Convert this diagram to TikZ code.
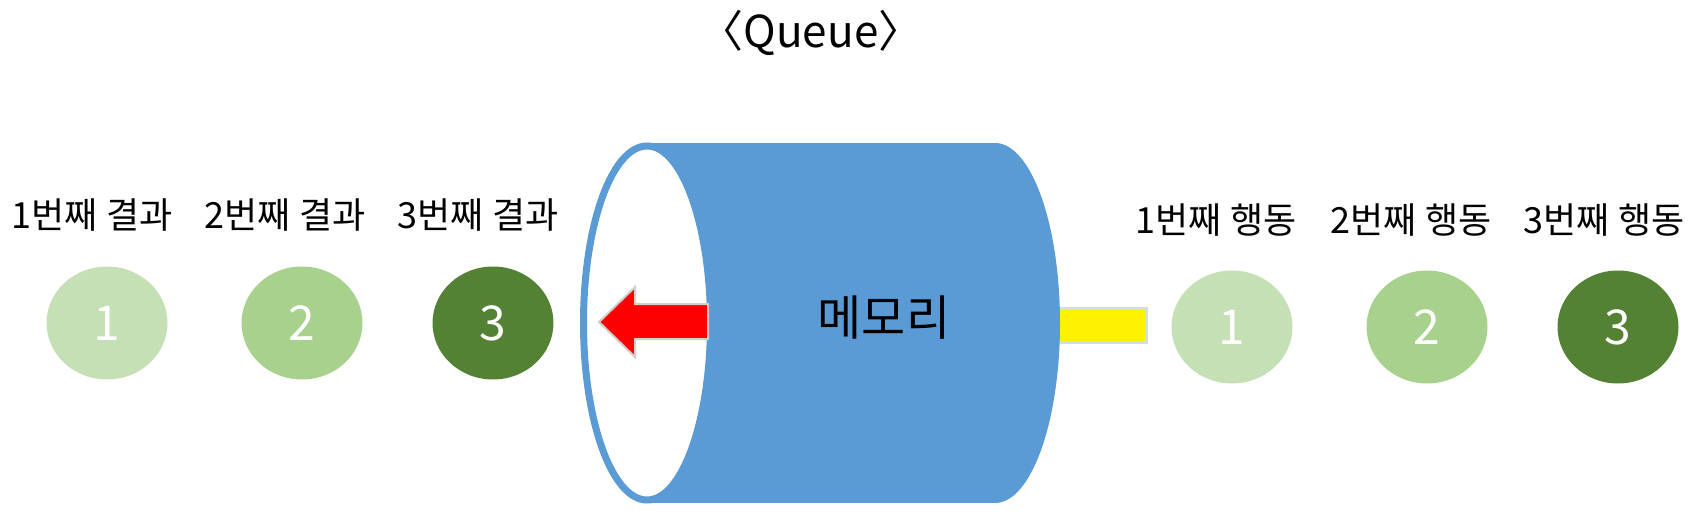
\documentclass[tikz,border=0pt]{standalone}
\usepackage{fontspec}
\setmainfont{Noto Sans CJK KR}
\usetikzlibrary{positioning,shapes.geometric}
\definecolor{memblue}{HTML}{5B9BD5}
\definecolor{ballA}{HTML}{C5E0B4}
\definecolor{ballB}{HTML}{A9D18E}
\definecolor{ballC}{HTML}{548235}
\definecolor{rimgray}{HTML}{D0CECE}
\definecolor{bargray}{HTML}{D6DCE5}

\begin{document}
\begin{tikzpicture}[x=0.5pt,y=-0.5pt,
  ball/.style={ellipse,minimum width=60.5pt,minimum height=56.5pt,inner sep=0pt,text=white,font=\fontsize{24}{24}\selectfont},
  caption/.style={inner sep=0pt,font=\fontsize{18}{18}\selectfont}]
  \useasboundingbox (0,0) rectangle (1699,514);
  \node[font=\fontsize{22}{22}\selectfont] (title) at (811,33) {〈Queue〉};
  % yellow bar, behind the memory
  \draw[bargray,fill=yellow,line width=1.5pt] (1050,308) rectangle (1146,342);
  % memory as a cylinder
  \fill[memblue] (647,143) rectangle (995,503);
  \fill[memblue] (995,323) ellipse [x radius=65,y radius=180];
  \draw[memblue,fill=white,line width=3.5pt] (647,323) ellipse [x radius=63.5,y radius=177];
  \node[font=\fontsize{24}{24}\selectfont] (mem) at (884,318) {메모리};
  \draw[rimgray,fill=red,line width=1pt] (599,322) -- (635,287) -- (635,304) -- (708,304)
    -- (708,339) -- (635,339) -- (635,357) -- cycle;
  % results and actions
  \foreach \i/\c/\x/\lx in {1/ballA/107/92,2/ballB/302/285,3/ballC/493/478}{
    \node[ball,fill=\c] (r\i) at (\x,323) {\i};
    \node[caption] (rl\i) at (\lx,215) {{\i}번째 결과};}
  \foreach \i/\c/\x/\lx in {1/ballA/1232/1216,2/ballB/1427/1411,3/ballC/1618/1604}{
    \node[ball,fill=\c] (a\i) at (\x,327) {\i};
    \node[caption] (al\i) at (\lx,220) {{\i}번째 행동};}
\end{tikzpicture}
\end{document}
